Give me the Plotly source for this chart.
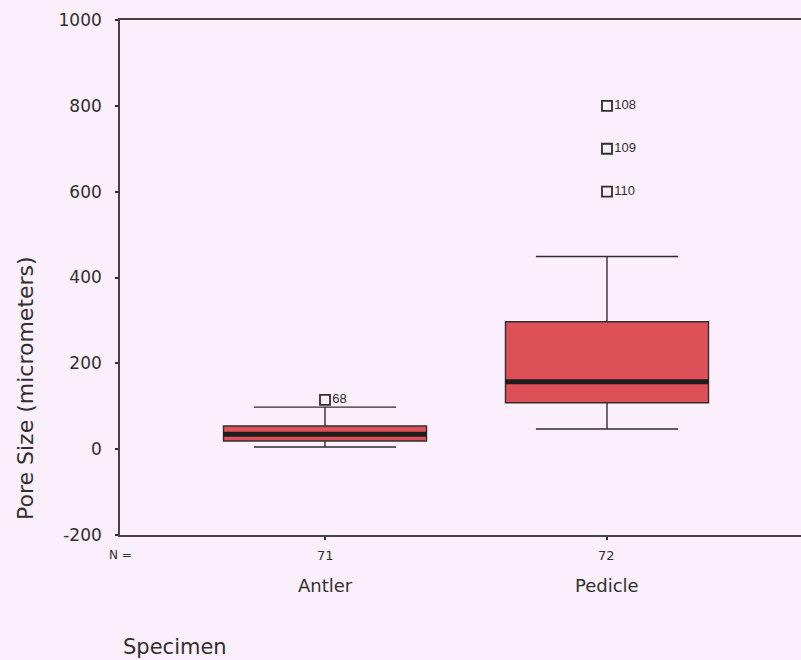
import plotly.graph_objects as go

# Box-plot summary statistics per specimen (pore size, micrometers)
categories = ["Antler", "Pedicle"]
n_values = [71, 72]
lower_whisker = [5, 47]
q1_values = [19, 108]
medians = [35, 157]
q3_values = [54, 297]
upper_whisker = [98, 449]

# Flagged outlying cases: (specimen index, value, case label)
outlier_cat = [0, 1, 1, 1]
outlier_val = [115, 800, 700, 600]
outlier_lbl = ["68", "108", "109", "110"]

y_ticks = [-200, 0, 200, 400, 600, 800, 1000]
y_tick_text = ["-200", "0", "200", "400", "600", "800", "1000"]

BOX_WIDTH = 0.72
FILL = "#de5058"
INK = "#2f2f2f"
TEXT = "#303030"
BG = "#faeffa"
FONT = "DejaVu Sans, Arial, sans-serif"

fig = go.Figure()

for i, name in enumerate(categories):
    fig.add_trace(go.Box(
        x=[i],
        q1=[q1_values[i]],
        median=[medians[i]],
        q3=[q3_values[i]],
        lowerfence=[lower_whisker[i]],
        upperfence=[upper_whisker[i]],
        width=BOX_WIDTH,
        whiskerwidth=0.7,
        fillcolor=FILL,
        line=dict(color=INK, width=1.4),
        name=name,
        showlegend=False,
        hoverinfo="skip",
    ))
    # heavy median bar
    fig.add_shape(
        type="line", xref="x", yref="y",
        x0=i - BOX_WIDTH / 2, x1=i + BOX_WIDTH / 2,
        y0=medians[i], y1=medians[i],
        line=dict(color="#1c1c1c", width=5),
    )

fig.add_trace(go.Scatter(
    x=outlier_cat,
    y=outlier_val,
    mode="markers+text",
    text=outlier_lbl,
    textposition="middle right",
    textfont=dict(family="Liberation Sans, Arial, sans-serif", size=13, color=INK),
    marker=dict(symbol="square-open", size=10, color=INK, line=dict(width=1.8, color=INK)),
    showlegend=False,
    hoverinfo="skip",
    cliponaxis=False,
))

annotations = [
    dict(text="N =", x=0, xref="paper", y=0, yref="paper", yshift=-20,
         xanchor="center", yanchor="middle", showarrow=False,
         font=dict(family=FONT, size=12, color=TEXT)),
    dict(text="Specimen", x=0, xref="paper", xshift=55, y=0, yref="paper", yshift=-112,
         xanchor="center", yanchor="middle", showarrow=False,
         font=dict(family=FONT, size=21, color=TEXT)),
    dict(text="Pore Size (micrometers)", x=0, xref="paper", xshift=-95,
         y=0, yref="paper", yshift=147, textangle=-90,
         xanchor="center", yanchor="middle", showarrow=False,
         font=dict(family=FONT, size=22, color=TEXT)),
]
for i, name in enumerate(categories):
    annotations.append(dict(text=str(n_values[i]), x=i, xref="x", y=0, yref="paper",
                            yshift=-20, xanchor="center", yanchor="middle", showarrow=False,
                            font=dict(family=FONT, size=13, color=TEXT)))
    annotations.append(dict(text=name, x=i, xref="x", y=0, yref="paper",
                            yshift=-50, xanchor="center", yanchor="middle", showarrow=False,
                            font=dict(family=FONT, size=18, color=TEXT)))

fig.update_layout(
    width=801, height=660,
    margin=dict(l=120, r=0, t=20, b=125),
    paper_bgcolor=BG,
    plot_bgcolor=BG,
    annotations=annotations,
    xaxis=dict(
        range=[-0.727, 1.688],
        tickvals=[0, 1], ticktext=["", ""],
        ticks="outside", ticklen=3, tickwidth=2, tickcolor=INK,
        showgrid=False, zeroline=False,
        showline=True, linecolor="#444444", linewidth=1.6, mirror=True,
    ),
    yaxis=dict(
        range=[-200, 1000],
        tickvals=y_ticks, ticktext=y_tick_text,
        ticks="outside", ticklen=3, tickwidth=2, tickcolor=INK,
        ticklabelstandoff=10,
        tickfont=dict(family=FONT, size=17, color=TEXT),
        showgrid=False, zeroline=False,
        showline=True, linecolor="#444444", linewidth=1.6, mirror=False,
    ),
)

fig.write_html("out.html")
